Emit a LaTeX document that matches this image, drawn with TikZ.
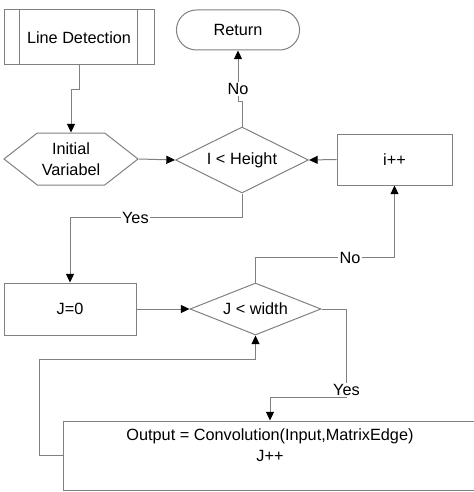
\documentclass[tikz,border=0pt]{standalone}
\usepackage{fontspec}
\setmainfont{Liberation Sans}
\usetikzlibrary{shapes.geometric,shapes.misc,shapes.symbols,arrows.meta}
\definecolor{flowgray}{RGB}{128,128,128}
\tikzstyle{arrow} = [draw=flowgray,-{Triangle[length=6.5pt,width=6pt,color=black]}]
\tikzstyle{process} = [draw=flowgray,rectangle,align=center,inner sep=2pt]
\tikzstyle{subproc} = [process,minimum width=112.5pt,minimum height=41.25pt]
\tikzstyle{terminal} = [draw=flowgray,rounded rectangle,minimum width=99pt,minimum height=30pt]
\tikzstyle{prep} = [draw=flowgray,signal,signal to=west and east,signal pointer angle=76,align=center,inner sep=1pt,minimum width=100.5pt,minimum height=39pt]
\tikzstyle{decision} = [draw=flowgray,diamond,aspect=2,inner sep=0pt]
\tikzstyle{lbl} = [fill=white,inner sep=1pt]

\begin{document}
\begin{tikzpicture}[x=0.75pt,y=-0.75pt,line width=0.75pt,font=\fontsize{12.2}{15.75}\selectfont]
        \useasboundingbox (0,0) rectangle (474,492);
        \node[subproc] at (79,37.5) (linedet) {Line Detection};
        \node[terminal] at (238,30) (ret) {Return};
        \node[prep] at (71,159) (initvar) {Initial\\Variabel};
        \node[decision, minimum width=99.75pt, minimum height=49.5pt] at (242,160) (iheight) {I < Height};
        \node[process, minimum width=86.25pt, minimum height=38.25pt] at (394.5,159.5) (iinc) {i++};
        \node[process, minimum width=99pt, minimum height=39pt] at (70,309) (jzero) {J=0};
        \node[decision, minimum width=98.25pt, minimum height=39pt] at (255.5,309) (jwidth) {J < width};
        \node[process, minimum width=310.5pt, minimum height=51.75pt, text depth=16pt] at (270,455.5) (conv) {Output = Convolution(Input,MatrixEdge)\\J++};

        \draw[flowgray] ([xshift=12pt]linedet.north west) -- ([xshift=12pt]linedet.south west);
        \draw[flowgray] ([xshift=-12.75pt]linedet.north east) -- ([xshift=-12.75pt]linedet.south east);

        \draw[arrow] (linedet.south) -- ++(0,24) -| (initvar.north);
        \draw[arrow] (initvar.east) -- (iheight.west);
        \draw[arrow] (iinc.west) -- (iheight.east);
        \draw[arrow] (iheight.north) -- ++(0,-25) -| node[lbl,pos=0.62]{No} (ret.south);
        \draw[arrow] (iheight.south) -- ++(0,24) -| node[lbl,pos=0.31]{Yes} (jzero.north);
        \draw[arrow] (jzero.east) -- (jwidth.west);
        \draw[arrow] (jwidth.north) -- ++(0,-25) -| node[lbl,pos=0.34]{No} (iinc.south);
        \draw[arrow] (jwidth.east) -- ++(25,0) -- ++(0,88) node[lbl,yshift=5pt]{Yes} -| (conv.north);
        \draw[arrow] (conv.west) -- ++(-23,0) -- ++(0,-96) -| (jwidth.south);
\end{tikzpicture}
\end{document}
